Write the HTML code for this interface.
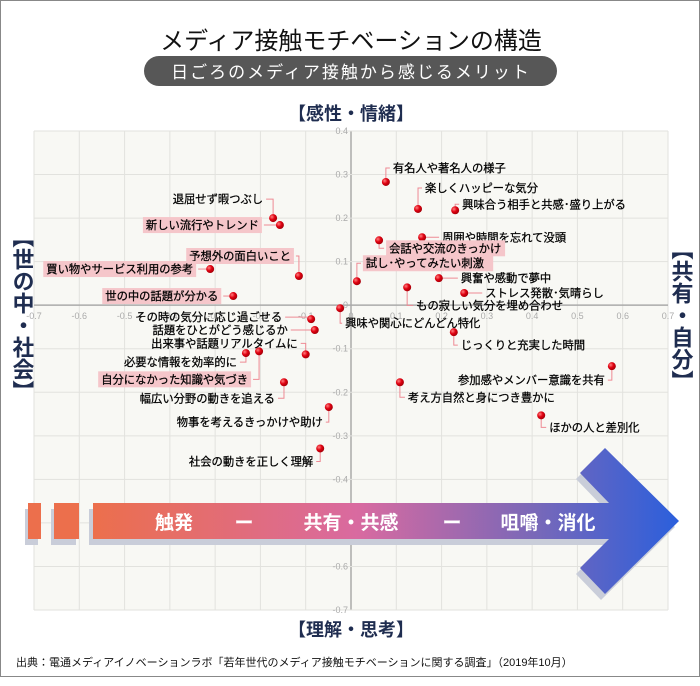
<!DOCTYPE html>
<html><head><meta charset="utf-8">
<style>
html,body{margin:0;padding:0;background:#fff;}
body{width:700px;height:681px;overflow:hidden;font-family:"Liberation Sans","Noto Sans CJK JP",sans-serif;}
svg text{font-family:"Liberation Sans","Noto Sans CJK JP",sans-serif;}
</style></head>
<body>
<svg id="chart" width="700" height="681" viewBox="0 0 700 681" xmlns="http://www.w3.org/2000/svg">
<defs>
<linearGradient id="bandGrad" x1="0" x2="1" y1="0" y2="0">
<stop offset="0" stop-color="#ec6f4c"/>
<stop offset="0.45" stop-color="#d96aa0"/>
<stop offset="0.75" stop-color="#7a68b8"/>
<stop offset="1" stop-color="#2b5fdc"/>
</linearGradient>
<radialGradient id="dotGrad" cx="0.35" cy="0.35" r="0.7">
<stop offset="0" stop-color="#ff8080"/>
<stop offset="0.5" stop-color="#e00010"/>
<stop offset="1" stop-color="#a00008"/>
</radialGradient>
</defs>
<rect x="0.5" y="0.5" width="699" height="676" fill="#fff" stroke="#888"/>
<text x="351" y="49" text-anchor="middle" font-size="24" fill="#111">メディア接触モチベーションの構造</text>
<rect x="144" y="56" width="413" height="30" rx="15" fill="#575757"/>
<text x="351" y="78" text-anchor="middle" font-size="17" fill="#fff" letter-spacing="2">日ごろのメディア接触から感じるメリット</text>
<text x="351" y="120" text-anchor="middle" font-size="18" font-weight="bold" fill="#1f2d50">【感性・情緒】</text>
<text x="351" y="636" text-anchor="middle" font-size="18" font-weight="bold" fill="#1f2d50">【理解・思考】</text>
<text x="22" y="226" font-size="22" font-weight="bold" fill="#1f2d50" style="writing-mode:vertical-rl" text-anchor="start">【世の中・社会】</text>
<text x="681" y="238" font-size="22" font-weight="bold" fill="#1f2d50" style="writing-mode:vertical-rl" text-anchor="start">【共有・自分】</text>
<rect x="34" y="131" width="634" height="479" fill="#f8f8f4"/>
<g id="grid"></g>
<g id="band"></g>
<g id="marks"></g>
<text x="16" y="666" font-size="11" fill="#111">出典：電通メディアイノベーションラボ「若年世代のメディア接触モチベーションに関する調査」（2019年10月）</text>
</svg>
<script>
const xTicks=[-0.7,-0.6,-0.5,-0.4,-0.3,-0.2,-0.1,0,0.1,0.2,0.3,0.4,0.5,0.6,0.7];
const yTicks=[0.4,0.3,0.2,0.1,0,-0.1,-0.2,-0.3,-0.4,-0.5,-0.6,-0.7];
const xTickLabels=["-0.7","-0.6","-0.5","-0.4","-0.3","-0.2","-0.1","0","0.1","0.2","0.3","0.4","0.5","0.6","0.7"];
const yTickLabels=["0.4","0.3","0.2","0.1","0","-0.1","-0.2","-0.3","-0.4","-0.5","-0.6","-0.7"];
const itemNames=["退屈せず暇つぶし","新しい流行やトレンド","予想外の面白いこと","買い物やサービス利用の参考","世の中の話題が分かる","有名人や著名人の様子","楽しくハッピーな気分","興味合う相手と共感･盛り上がる","周囲や時間を忘れて没頭","会話や交流のきっかけ","試し･やってみたい刺激","興奮や感動で夢中","ストレス発散･気晴らし","もの寂しい気分を埋め合わせ","興味や関心にどんどん特化","その時の気分に応じ過ごせる","話題をひとがどう感じるか","出来事や話題リアルタイムに","必要な情報を効率的に","自分になかった知識や気づき","幅広い分野の動きを追える","物事を考えるきっかけや助け","社会の動きを正しく理解","じっくりと充実した時間","参加感やメンバー意識を共有","考え方自然と身につき豊かに","ほかの人と差別化"];
const xValues=[-0.172,-0.157,-0.115,-0.311,-0.26,0.077,0.148,0.23,0.157,0.062,0.013,0.194,0.25,0.124,-0.024,-0.088,-0.08,-0.1,-0.232,-0.203,-0.148,-0.049,-0.068,0.227,0.576,0.108,0.42];
const yValues=[0.2,0.184,0.067,0.083,0.021,0.283,0.221,0.218,0.156,0.149,0.055,0.062,0.028,0.041,-0.007,-0.032,-0.057,-0.113,-0.11,-0.106,-0.177,-0.234,-0.329,-0.062,-0.14,-0.177,-0.253];
// label layout (pixel offsets from dot, styling only)
const labelLayout=[[-10,-19,1,0],[-21,0,1,1],[-8,-20,1,1],[-17,0,1,1],[-15,0,1,1],[7,-14,0,0],[7,-21,0,0],[7,-6,0,0],[20,0,0,0],[10,8,0,1],[9,-18,0,1],[22,0,0,0],[21,0,0,0],[9,18,0,0],[5,15,0,0],[-29,-2,1,0],[-27,0,1,0],[-8,-11,1,0],[-9,9,1,0],[-11,28,1,1],[-9,16,1,0],[-6,15,1,0],[-7,13,1,0],[7,13,0,0],[-7,14,1,0],[8,15,0,0],[8,12,0,0]];

const X0=34,X1=668,Y0=131,Y1=610;
const xs=v=>X0+(v+0.7)/1.4*(X1-X0);
const ys=v=>Y1-(v+0.7)/1.1*(Y1-Y0);
const NS="http://www.w3.org/2000/svg";
function mk(tag,attrs,parent){const e=document.createElementNS(NS,tag);for(const k in attrs)e.setAttribute(k,attrs[k]);parent.appendChild(e);return e;}
const grid=document.getElementById('grid');
xTicks.forEach((t,i)=>{
  const l=mk('line',{x1:xs(t),x2:xs(t),y1:Y0,y2:Y1,stroke:t===0?'#aaa':'#e2e2de','stroke-width':t===0?1.5:1},grid);
  
  
  const tx=mk('text',{x:xs(t),y:ys(0)+14,'text-anchor':'middle','font-size':9,fill:'#aaa'},grid);
  tx.textContent=xTickLabels[i];
  
  
});
yTicks.forEach((t,i)=>{
  const l=mk('line',{x1:X0,x2:X1,y1:ys(t),y2:ys(t),stroke:t===0?'#aaa':'#e2e2de','stroke-width':t===0?1.5:1},grid);
  
  
  const tx=mk('text',{x:xs(0)-3,y:ys(t)+3,'text-anchor':'end','font-size':9,fill:'#aaa'},grid);
  tx.textContent=yTickLabels[i];
  
  
});
// band arrow
const band=document.getElementById('band');
const arrowPts="93,503 609,503 580,473 605,448 679,521 605,594 580,568 609,539 93,539";
const sh=mk('polygon',{points:arrowPts,fill:'#c9cdd9',transform:'translate(-4,6)'},band);


[[28,13],[54,25]].forEach(b=>{
  const s=mk('rect',{x:b[0]-3,y:509,width:b[1],height:36,fill:'#c9cdd9'},band);
  
  
  const r=mk('rect',{x:b[0],y:503,width:b[1],height:36,fill:'#ec6f4c'},band);
  
  
});
const ar=mk('polygon',{points:arrowPts,fill:'url(#bandGrad)'},band);


[["触発",174],["ー",244],["共有・共感",351],["ー",452],["咀嚼・消化",548]].forEach(p=>{
  const t=mk('text',{x:p[1],y:529,'text-anchor':'middle','font-size':19,'font-weight':'bold',fill:'#fff'},band);
  t.textContent=p[0];
  
  
});
// marks
const marks=document.getElementById('marks');
itemNames.forEach((name,i)=>{
  const cx=xs(xValues[i]),cy=ys(yValues[i]);
  const [dx,dy,left,hl]=labelLayout[i];
  const lx=cx+dx,ly=cy+dy;
  const g=mk('g',{},marks);
  
  
  const fs=11.3;
  const w=name.length*fs;
  if(hl){
    const bx=left?lx-w-3:lx-3;
    const b=mk('rect',{x:bx,y:ly-8,width:w+6,height:16,fill:'#f5c6ca'},g);
    
    
  }
  const ex=left?lx+(hl?5:3):lx-(hl?5:3);
  const pl=mk('polyline',{points:`${cx},${cy} ${cx},${ly} ${ex},${ly}`,fill:'none',stroke:'#ee8a94','stroke-width':1},g);
  
  
  const t=mk('text',{x:lx,y:ly+4,'text-anchor':left?'end':'start','font-size':fs,fill:'#000',stroke:'#000','stroke-width':0.25},g);
  t.textContent=name;
  
  
  const c=mk('circle',{cx:cx,cy:cy,r:4,fill:'url(#dotGrad)'},g);
  
  
});
</script>
</body></html>
